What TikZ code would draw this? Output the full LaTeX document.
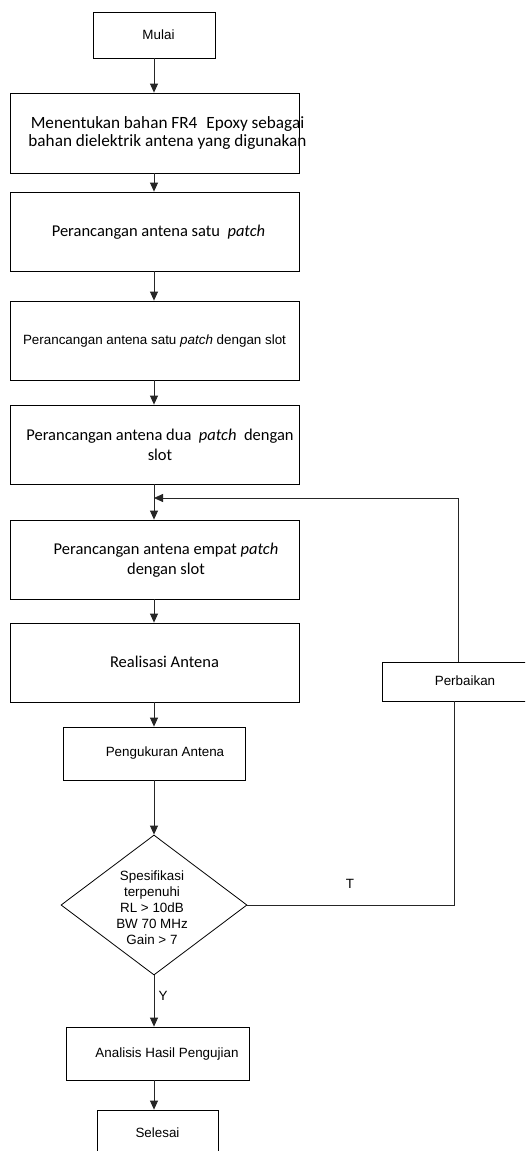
\documentclass[tikz,border=0pt]{standalone}
\usepackage{fontspec}
\setmainfont{Carlito}
\newfontfamily\arialf{Liberation Sans}
\usetikzlibrary{arrows.meta,shapes.geometric}
\begin{document}
\begin{tikzpicture}[x=1pt,y=-1pt,
  box/.style={draw=black, line width=0.8pt, rectangle, inner sep=0pt},
  bigbox/.style={box, minimum width=289pt, minimum height=79pt},
  ctxt/.style={inner sep=0pt, align=center, font=\fontsize{16.5}{20}\selectfont},
  atxt/.style={inner sep=0pt, align=center, font=\arialf\fontsize{13.4}{16}\selectfont},
  conn/.style={draw=black!85, line width=0.8pt},
  arr/.style={conn, -{Triangle[length=9pt,width=8pt]}}]
\clip (0,0) rectangle (525,1151);
\fill[white] (0,0) rectangle (525,1151);

% boxes
\node[box, minimum width=122pt, minimum height=46pt] (mulai) at (154,35) {};
\node[atxt] (tmulai) at (158.5,35) {Mulai};

\node[bigbox, minimum height=80pt] (b2) at (154.5,133) {};
\node[ctxt, font=\fontsize{17.2}{18}\selectfont] (t2) at (167.5,133) {Menentukan bahan FR4\hspace{9pt}Epoxy sebagai\\bahan dielektrik antena yang digunakan};

\node[bigbox] (b3) at (154.5,231.5) {};
\node[ctxt] (t3) at (158.5,232) {Perancangan antena satu~~\textit{patch}};

\node[bigbox] (b4) at (154.5,340.5) {};
\node[atxt] (t4) at (154.5,341) {Perancangan antena satu \textit{patch} dengan slot};

\node[bigbox] (b5) at (154.5,444.5) {};
\node[ctxt] (t5) at (160,445) {Perancangan antena dua~~\textit{patch}~~dengan\\slot};

\node[bigbox] (b6) at (154.5,559.5) {};
\node[ctxt] (t6) at (166,560) {Perancangan antena empat \textit{patch}\\dengan slot};

\node[bigbox] (b7) at (154.5,662.5) {};
\node[ctxt] (t7) at (164.5,662) {Realisasi Antena};

\node[box, minimum width=182pt, minimum height=53pt] (peng) at (154,753.5) {};
\node[atxt] (tpeng) at (165,753) {Pengukuran Antena};

\node[draw=black, line width=0.8pt, diamond, minimum width=186pt, minimum height=140pt, inner sep=0pt] (dia) at (154,905) {};
\node[atxt] (tdia) at (152,908) {Spesifikasi\\terpenuhi\\RL > 10dB\\BW 70 MHz\\Gain > 7};

\node[box, minimum width=183pt, minimum height=53pt] (anal) at (157.5,1053.5) {};
\node[atxt] (tanal) at (167,1054) {Analisis Hasil Pengujian};

\node[box, minimum width=121pt, minimum height=46pt] (sel) at (157.5,1133) {};
\node[atxt] (tsel) at (157.5,1133) {Selesai};

\node[box, minimum width=166pt, minimum height=39pt] (perb) at (465,681.5) {};
\node[atxt] (tperb) at (465,681) {Perbaikan};

% main flow
\draw[arr] (mulai.south) -- (mulai.south |- b2.north);
\draw[arr] (mulai.south |- b2.south) -- (mulai.south |- b3.north);
\draw[arr] (mulai.south |- b3.south) -- (mulai.south |- b4.north);
\draw[arr] (mulai.south |- b4.south) -- (mulai.south |- b5.north);
\draw[arr] (mulai.south |- b5.south) -- (mulai.south |- b6.north);
\draw[arr] (mulai.south |- b6.south) -- (mulai.south |- b7.north);
\draw[arr] (mulai.south |- b7.south) -- (peng.north);
\draw[arr] (peng.south) -- (dia.north);
\draw[arr] (dia.south) -- (dia.south |- anal.north);
\draw[arr] (dia.south |- anal.south) -- (dia.south |- sel.north);

% feedback loop
\coordinate (fbtop) at (458,498);
\coordinate (fbbot) at (454,905);
\draw[conn] (dia.east) -- (dia.east -| fbbot) -- (perb.south -| fbbot);
\draw[arr] (perb.north -| fbtop) -- (fbtop) -- (fbtop -| mulai.south);

% labels
\node[atxt] (lt) at (350,884) {T};
\node[atxt] (ly) at (163,996) {Y};
\end{tikzpicture}
\end{document}
